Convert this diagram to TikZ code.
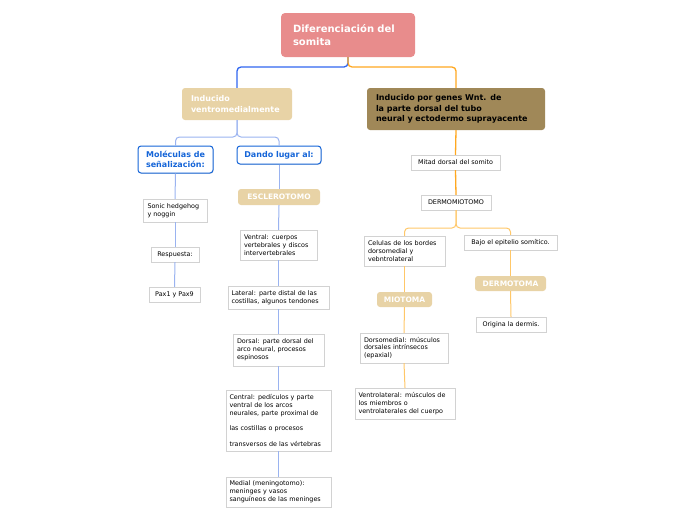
\documentclass[tikz,border=0pt]{standalone}
\usepackage{fontspec}
\setmainfont{DejaVu Sans}
\usetikzlibrary{calc}
\usetikzlibrary{shadows}

\definecolor{rootred}{HTML}{E88C8C}
\definecolor{tan}{HTML}{E8D3A6}
\definecolor{brownbox}{HTML}{A08858}
\definecolor{blueline}{HTML}{2F66F0}
\definecolor{lightblue}{HTML}{9AB3F0}
\definecolor{orangeline}{HTML}{FFA820}
\definecolor{lightorange}{HTML}{FFC768}
\definecolor{boxgray}{HTML}{D2D2D2}
\definecolor{bluetext}{HTML}{1565D8}

\tikzset{
  rootbox/.style={fill=rootred, rounded corners=4pt, text=white, font=\bfseries\fontsize{10}{13}\selectfont, align=left},
  tanbox/.style={fill=tan, rounded corners=3pt, text=white, font=\bfseries\fontsize{8}{10.5}\selectfont, align=left},
  brownnode/.style={fill=brownbox, rounded corners=3pt, text=black, font=\bfseries\fontsize{8}{10.5}\selectfont, align=left},
  bluebox/.style={draw=bluetext, line width=1pt, fill=white, rounded corners=3pt, text=bluetext, font=\bfseries\fontsize{8}{10}\selectfont, align=left, drop shadow={shadow xshift=0.6pt, shadow yshift=-0.8pt, opacity=0.25}},
  leaf/.style={draw=boxgray, fill=white, font=\fontsize{6.4}{7.9}\selectfont, align=left, drop shadow={shadow xshift=0.6pt, shadow yshift=-0.6pt, opacity=0.15}},
  bline/.style={draw=blueline, line width=1.3pt, rounded corners=4pt},
  lbline/.style={draw=lightblue, line width=1pt, rounded corners=4pt},
  oline/.style={draw=orangeline, line width=1.3pt, rounded corners=4pt},
  loline/.style={draw=lightorange, line width=1pt, rounded corners=4pt}
}

\begin{document}
\begin{tikzpicture}[x=1pt,y=-1pt]
  \useasboundingbox (0,0) rectangle (696,520);

  % top
  \node[rootbox, minimum width=134pt, minimum height=44pt, text width=110pt] (root) at (348,35) {Diferenciación del\\somita};
  \node[tanbox, minimum width=110pt, minimum height=32pt, text width=92pt] (ventro) at (237,104) {Inducido\\ventromedialmente};
  \node[brownnode, minimum width=178pt, minimum height=42pt, text width=160pt] (wnt) at (456,109) {Inducido por genes Wnt. de\\la parte dorsal del tubo\\neural y ectodermo suprayacente};

  % left side
  \node[bluebox, minimum width=75pt, minimum height=27pt, inner xsep=4pt] (molec) at (175.5,159.5) {Moléculas de\\señalización:};
  \node[bluebox, minimum width=84pt, minimum height=18pt] (dando) at (279,155) {Dando lugar al:};
  \node[leaf, minimum width=64pt, minimum height=23pt, text width=55pt] (sonic) at (175,210.5) {Sonic hedgehog\\y noggin};
  \node[leaf, minimum width=48pt, minimum height=15pt] (resp) at (175,254.5) {Respuesta:};
  \node[leaf, minimum width=51pt, minimum height=15pt] (pax) at (174.5,294.5) {Pax1 y Pax9};
  \node[tanbox, font=\bfseries\fontsize{7.5}{9}\selectfont, minimum width=82pt, minimum height=16pt] (escl) at (279,197) {ESCLEROTOMO};
  \node[leaf, minimum width=77pt, minimum height=30pt, text width=69pt] (ventral) at (278.5,245) {Ventral: cuerpos\\vertebrales y discos\\intervertebrales};
  \node[leaf, minimum width=101pt, minimum height=23pt, text width=94pt] (lateral) at (278.5,297.5) {Lateral: parte distal de las\\costillas, algunos tendones};
  \node[leaf, minimum width=91pt, minimum height=32pt, text width=83pt] (dorsal) at (278.5,350) {Dorsal: parte dorsal del\\arco neural, procesos\\espinosos};
  \node[leaf, minimum width=105pt, minimum height=61pt, text width=98pt] (central) at (278.5,420.5) {Central: pedículos y parte\\ventral de los arcos\\neurales, parte proximal de\\[7.6pt]las costillas o procesos\\[7.6pt]transversos de las vértebras};
  \node[leaf, minimum width=105pt, minimum height=30pt, text width=98pt] (medial) at (278.5,492) {Medial (meningotomo):\\meninges y vasos\\sanguíneos de las meninges};

  % right side
  \node[leaf, minimum width=89pt, minimum height=15pt] (mitad) at (455.5,162.5) {Mitad dorsal del somito};
  \node[leaf, minimum width=70pt, minimum height=15pt] (dermomio) at (456,202.5) {DERMOMIOTOMO};
  \node[leaf, minimum width=81pt, minimum height=30pt, text width=73pt] (celulas) at (404.5,251) {Celulas de los bordes\\dorsomedial y\\vebntrolateral};
  \node[leaf, minimum width=93pt, minimum height=15pt] (bajo) at (510.5,242.5) {Bajo el epitelio somítico.};
  \node[tanbox, font=\bfseries\fontsize{7.5}{9}\selectfont, minimum width=55pt, minimum height=15pt] (miotoma) at (404.5,299.5) {MIOTOMA};
  \node[tanbox, font=\bfseries\fontsize{7.5}{9}\selectfont, minimum width=71pt, minimum height=15pt] (dermotoma) at (510.5,283.5) {DERMOTOMA};
  \node[leaf, minimum width=70pt, minimum height=15pt] (origina) at (511,324.5) {Origina la dermis.};
  \node[leaf, minimum width=88pt, minimum height=30pt, text width=80pt] (dorsomed) at (404,348) {Dorsomedial: músculos\\dorsales intrínsecos\\(epaxial)};
  \node[leaf, minimum width=100pt, minimum height=31pt, text width=93pt] (ventrolat) at (405,403.5) {Ventrolateral: músculos de\\los miembros o\\ventrolaterales del cuerpo};

  % connectors
  \draw[bline] (root.south) -- (348,67) -| (ventro.north);
  \draw[oline] (root.south) -- (348,67) -| (wnt.north);
  \draw[lbline] (ventro.south) -- (237,137) -| (molec.north);
  \draw[lbline] (ventro.south) -- (237,137) -| (dando.north);
  \draw[lbline] (molec.south) -- (sonic.north);
  \draw[lbline] (sonic.south) -- (resp.north);
  \draw[lbline] (resp.south) -- (pax.north);
  \draw[lbline] (dando.south) -- (escl.north);
  \draw[lbline] (escl.south) -- (ventral.north);
  \draw[lbline] (ventral.south) -- (lateral.north);
  \draw[lbline] (lateral.south) -- (dorsal.north);
  \draw[lbline] (dorsal.south) -- (central.north);
  \draw[lbline] (central.south) -- (medial.north);
  \draw[oline] (wnt.south) -- (mitad.north);
  \draw[oline] (mitad.south) -- (dermomio.north);
  \draw[loline] (dermomio.south) -- (456,228) -| (celulas.north);
  \draw[loline] (dermomio.south) -- (456,228) -| (bajo.north);
  \draw[loline] (celulas.south) -- (miotoma.north);
  \draw[loline] (miotoma.south) -- (dorsomed.north);
  \draw[loline] (dorsomed.south) -- (ventrolat.north);
  \draw[loline] (bajo.south) -- (dermotoma.north);
  \draw[loline] (dermotoma.south) -- (origina.north);
\end{tikzpicture}
\end{document}
